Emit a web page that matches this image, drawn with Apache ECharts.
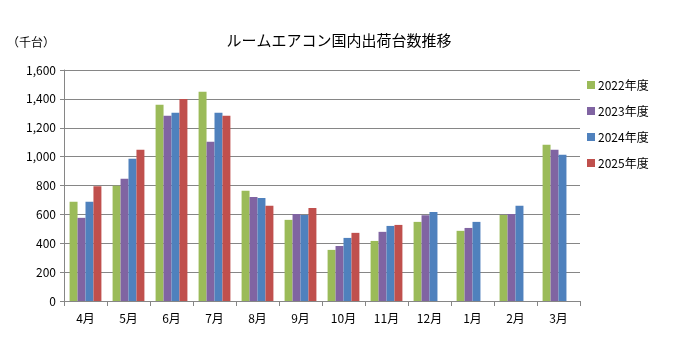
<!DOCTYPE html>
<html><head><meta charset="utf-8">
<script src="https://cdn.jsdelivr.net/npm/echarts@6/dist/echarts.min.js"></script>
<style>html,body{margin:0;padding:0;background:#fff}#c{width:676px;height:359px}</style>
</head><body><div id="c"></div>
<script>
const categories = ['4月','5月','6月','7月','8月','9月','10月','11月','12月','1月','2月','3月'];
const seriesNames = ['2022年度','2023年度','2024年度','2025年度'];
const fy2022 = [687, 798, 1359, 1450, 763, 562, 354, 416, 548, 486, 596, 1082];
const fy2023 = [576, 846, 1283, 1103, 721, 603, 381, 479, 594, 506, 603, 1047];
const fy2024 = [687, 985, 1304, 1304, 714, 596, 437, 520, 617, 548, 659, 1013];
const fy2025 = [795, 1047, 1399, 1283, 659, 645, 472, 527, null, null, null, null];
const yTicks = [0, 200, 400, 600, 800, 1000, 1200, 1400, 1600];
const colors = ['#9BBB59', '#8064A2', '#4F81BD', '#C0504D'];
const font = '"Noto Sans CJK JP", sans-serif';

const chart = echarts.init(document.getElementById('c'), null, {renderer: 'canvas'});
const allData = [fy2022, fy2023, fy2024, fy2025];
chart.setOption({
  animation: false,
  textStyle: {fontFamily: font},
  title: [
    {text: 'ルームエアコン国内出荷台数推移', left: 334, top: 28, textAlign: 'center',
     textStyle: {fontSize: 15, fontWeight: 'normal', color: '#000', fontFamily: font}},
    {text: '（千台）', left: 2, top: 31,
     textStyle: {fontSize: 12, fontWeight: 'normal', color: '#000', fontFamily: font}}
  ],
  legend: {
    orient: 'vertical', left: 582, top: 74,
    itemWidth: 8, itemHeight: 8, itemGap: 14,
    icon: 'rect',
    textStyle: {fontSize: 12, color: '#000', lineHeight: 12, fontFamily: font, padding: [0,0,0,-2]},
    data: seriesNames
  },
  grid: {left: 64, right: 96, top: 70, bottom: 58, containLabel: false},
  xAxis: {
    type: 'category', data: categories,
    axisLine: {lineStyle: {color: '#868686', width: 1}},
    axisTick: {show: true, length: 5, lineStyle: {color: '#868686'}},
    axisLabel: {fontSize: 12, color: '#000', margin: 11, fontFamily: font}
  },
  yAxis: {
    type: 'value', min: yTicks[0], max: yTicks[yTicks.length - 1], interval: 200,
    axisLine: {show: true, lineStyle: {color: '#868686'}},
    axisTick: {show: true, length: 4, lineStyle: {color: '#868686'}},
    splitLine: {lineStyle: {color: '#868686', width: 1}},
    axisLabel: {fontSize: 12, color: '#000', margin: 8, fontFamily: font,
      formatter: v => v.toLocaleString('en-US')}
  },
  series: seriesNames.map((n, i) => ({
    name: n, type: 'bar', data: allData[i],
    itemStyle: {color: colors[i]},
    barGap: '0%', barCategoryGap: '26%'
  }))
});
</script></body></html>
